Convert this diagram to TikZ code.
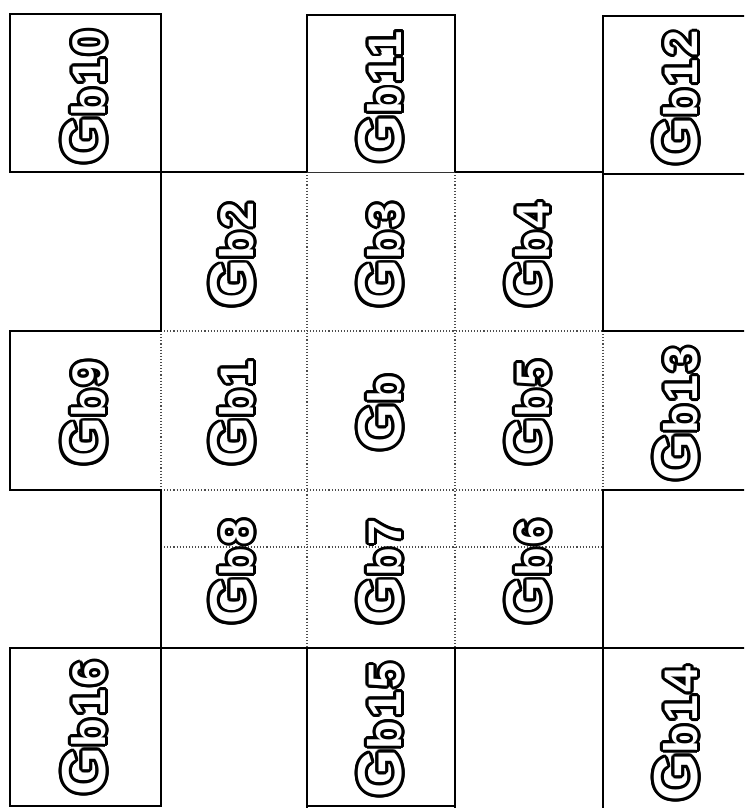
\documentclass[tikz,border=0pt]{standalone}
\usepackage{fontspec}
\newfontfamily\lblfont[LetterSpace=6]{Liberation Sans Bold}
\newcommand\gbtxt[1]{\lblfont\fontsize{62pt}{62pt}\selectfont G{\fontsize{47pt}{47pt}\selectfont b#1}}
\newcommand\hollow[1]{%
  \foreach \dx/\dy in {2.9/0,2.68/1.11,2.05/2.05,1.11/2.68,0/2.9,-1.11/2.68,-2.05/2.05,-2.68/1.11,-2.9/0,-2.68/-1.11,-2.05/-2.05,-1.11/-2.68,0/-2.9,1.11/-2.68,2.05/-2.05,2.68/-1.11}{%
    \rlap{\kern\dx pt\raisebox{\dy pt}{\gbtxt{#1}}}}%
  {\color{white}\gbtxt{#1}}}
\tikzset{
  lab/.style={rotate=90, inner sep=0pt},
  outline/.style={line width=2pt, line join=miter, black},
  thinline/.style={line width=1pt, black!80},
  inner/.style={line width=1.1pt, black!70, dotted},
}
\begin{document}
\begin{tikzpicture}[x=1pt, y=-1pt]
\useasboundingbox (0,0) rectangle (744,808);
\begin{scope}
\clip (0,0) rectangle (744,808);
% interior dotted dividers
\draw[inner] (307,172) -- (307,648);
\draw[inner] (455,172) -- (455,648);
\draw[inner] (161,331) -- (603,331);
\draw[inner] (161,490) -- (603,490);
\draw[inner] (161,331) -- (161,490);
\draw[inner] (603,331) -- (603,490);
\draw[inner] (161,547) -- (603,547);
% boxes of the top row
\draw[outline] (307,172) -- (307,15) -- (455,15) -- (455,172);
\draw[thinline] (307,172) -- (455,172);
\draw[outline] (10,14) rectangle (161,172);
\draw[outline] (760,16) -- (603,16) -- (603,174) -- (760,174);
% cross outline
\draw[outline] (307,172) -- (161,172) -- (161,331) -- (10,331) -- (10,490) -- (161,490) -- (161,648) -- (603,648) -- (603,490) -- (760,490);
\draw[outline] (455,172) -- (603,172) -- (603,331) -- (760,331);
% boxes of the bottom row
\draw[outline] (10,648) rectangle (161,806);
\draw[outline] (307,815) -- (307,648) -- (455,648) -- (455,815);
\draw[outline] (307,806) -- (455,806);
\draw[outline] (603,815) -- (603,648) -- (760,648);
\end{scope}
% labels
\node[lab] (gb10) at (84,97) {\hollow{10}};
\node[lab] (gb11) at (380,97) {\hollow{11}};
\node[lab] (gb12) at (676,98) {\hollow{12}};
\node[lab] (gb2) at (232,255) {\hollow{2}};
\node[lab] (gb3) at (380,255) {\hollow{3}};
\node[lab] (gb4) at (528,255) {\hollow{4}};
\node[lab] (gb9) at (84,413) {\hollow{9}};
\node[lab] (gb1) at (232,413) {\hollow{1}};
\node[lab] (gb) at (380,413) {\hollow{}};
\node[lab] (gb5) at (528,413) {\hollow{5}};
\node[lab] (gb13) at (676,414) {\hollow{13}};
\node[lab] (gb8) at (232,572) {\hollow{8}};
\node[lab] (gb7) at (380,572) {\hollow{7}};
\node[lab] (gb6) at (528,572) {\hollow{6}};
\node[lab] (gb16) at (84,728) {\hollow{16}};
\node[lab] (gb15) at (380,730) {\hollow{15}};
\node[lab] (gb14) at (676,734) {\hollow{14}};
\end{tikzpicture}
\end{document}
